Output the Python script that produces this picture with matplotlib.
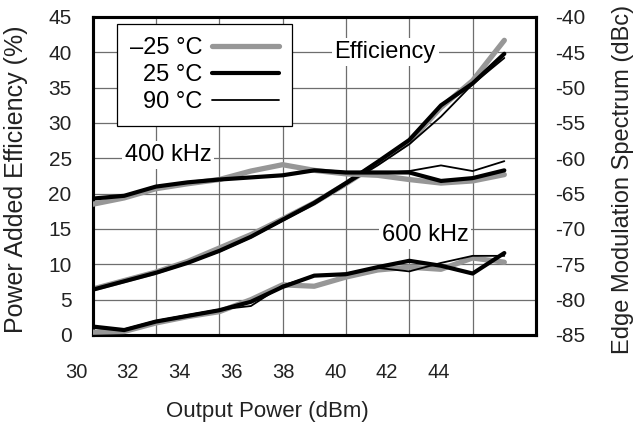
import numpy as np
import matplotlib
matplotlib.use("Agg")
import matplotlib.pyplot as plt

plt.rcParams["font.family"] = ["Liberation Sans", "DejaVu Sans"]
plt.rcParams["axes.unicode_minus"] = False

# Output power (dBm)
pout = [30, 31, 32, 33, 34, 35, 36, 37, 38, 39, 40, 41, 42, 43]

# Power added efficiency (%)
eff_m25 = [6.5, 7.7, 8.9, 10.4, 12.3, 14.2, 16.4, 18.7, 21.4, 24.3, 27.3, 32.2, 36.0, 41.7]
eff_25 = [6.4, 7.6, 8.8, 10.2, 11.9, 13.9, 16.3, 18.7, 21.5, 24.5, 27.6, 32.5, 35.6, 39.8]
eff_90 = [6.4, 7.6, 8.8, 10.2, 11.8, 13.8, 16.2, 18.5, 21.3, 24.0, 27.0, 30.9, 35.5, 39.2]

# Edge modulation spectrum at 400 kHz offset (dBc)
m400_m25 = [-66.5, -65.6, -64.3, -63.6, -63.0, -61.8, -60.9, -61.7, -62.2, -62.4, -63.0, -63.5, -63.2, -62.3]
m400_25 = [-65.7, -65.3, -64.0, -63.4, -63.0, -62.7, -62.4, -61.7, -62.0, -62.0, -62.0, -63.2, -62.8, -61.7]
m400_90 = [-65.7, -65.3, -64.0, -63.4, -63.0, -62.7, -62.4, -61.7, -62.1, -62.1, -61.8, -61.0, -61.8, -60.4]

# Edge modulation spectrum at 600 kHz offset (dBc)
m600_m25 = [-84.6, -84.5, -83.3, -82.4, -81.7, -80.0, -77.9, -78.1, -76.8, -75.8, -75.4, -75.7, -74.1, -74.7]
m600_25 = [-83.8, -84.3, -83.1, -82.3, -81.5, -80.3, -78.2, -76.6, -76.4, -75.4, -74.5, -75.2, -76.3, -73.4]
m600_90 = [-84.0, -84.2, -83.0, -82.2, -81.4, -80.9, -78.0, -76.6, -76.3, -75.5, -76.0, -74.8, -73.8, -73.8]

temps = ["\u201325 \u00b0C", "25 \u00b0C", "90 \u00b0C"]
xtick_vals = [30, 32, 34, 36, 38, 40, 42, 44]

W, H = 637, 425
fig = plt.figure(figsize=(W / 100, H / 100), dpi=100)
ax = fig.add_axes([92.5 / W, 1 - 335 / H, 443.5 / W, 318 / H])
ax2 = ax.twinx()

styles = [dict(color="#979797", lw=3.8), dict(color="black", lw=3.0), dict(color="black", lw=1.3)]

# efficiency on left axis
lines = []
for ys, st in zip([eff_m25, eff_25, eff_90], styles):
    ln, = ax.plot(pout, ys, solid_capstyle="round", zorder=3, **st)
    lines.append(ln)

# spectrum on right axis
for group in [[m400_m25, m400_25, m400_90], [m600_m25, m600_25, m600_90]]:
    for ys, st in zip(group, styles):
        ax2.plot(pout, ys, solid_capstyle="round", zorder=3, **st)

ax.set_xlim(30, 44)
ax.set_ylim(0, 45)
ax2.set_ylim(-85, -40)
ax.set_xticks(np.arange(32, 43, 2))
ax.set_yticks(np.arange(0, 46, 5))
ax2.set_yticks(np.arange(-85, -39, 5))
ax.grid(True, color="#6e6e6e", lw=0.9)
ax.set_axisbelow(True)
ax.tick_params(axis="x", length=0, labelbottom=False)
ax.tick_params(axis="y", length=0, pad=15, labelsize=15, labelcolor="#222222")
ax2.tick_params(axis="y", length=0, pad=14, labelsize=15, labelcolor="#222222")
for sp in ax.spines.values():
    sp.set_linewidth(2.2)
for sp in ax2.spines.values():
    sp.set_linewidth(2.2)

ax.set_ylabel("Power Added Efficiency (%)", fontsize=18, color="#222222")
ax.yaxis.set_label_coords(-0.145, 0.49)
ax2.set_ylabel("Edge Modulation Spectrum (dBc)", fontsize=17, color="#222222")
ax2.yaxis.set_label_coords(1.171, 0.49)

# x tick labels as in the reference (offset from the grid)
axl = fig.add_axes([76 / W, 1 - 335 / H, 363 / W, 0.001])
axl.set_xlim(30, 44)
axl.set_xticks(xtick_vals)
axl.set_yticks([])
axl.patch.set_visible(False)
for sp in axl.spines.values():
    sp.set_visible(False)
axl.tick_params(axis="x", length=0, pad=20, labelsize=14.5, labelcolor="#222222")
fig.text(267 / W, 1 - 411 / H, "Output Power (dBm)", fontsize=16, color="#222222",
         ha="center", va="center")

box = dict(facecolor="white", edgecolor="none", pad=2)
ax.text(39.24, 40.0, "Efficiency", fontsize=17, ha="center", va="center", bbox=box, zorder=2)
ax.text(32.39, 25.5, "400 kHz", fontsize=17, ha="center", va="center", bbox=box, zorder=2)
ax.text(40.5, 14.1, "600 kHz", fontsize=17, ha="center", va="center", bbox=box, zorder=2)

leg = ax2.legend(lines, temps, loc="upper left", bbox_to_anchor=(0.055, 0.978),
                 borderaxespad=0, markerfirst=False, fontsize=17, handlelength=2.84,
                 labelspacing=0.22, fancybox=False, framealpha=1, edgecolor="black",
                 borderpad=0.55, handletextpad=0.42)
leg.get_frame().set_linewidth(0.9)

fig.savefig("out.png", dpi=100)
